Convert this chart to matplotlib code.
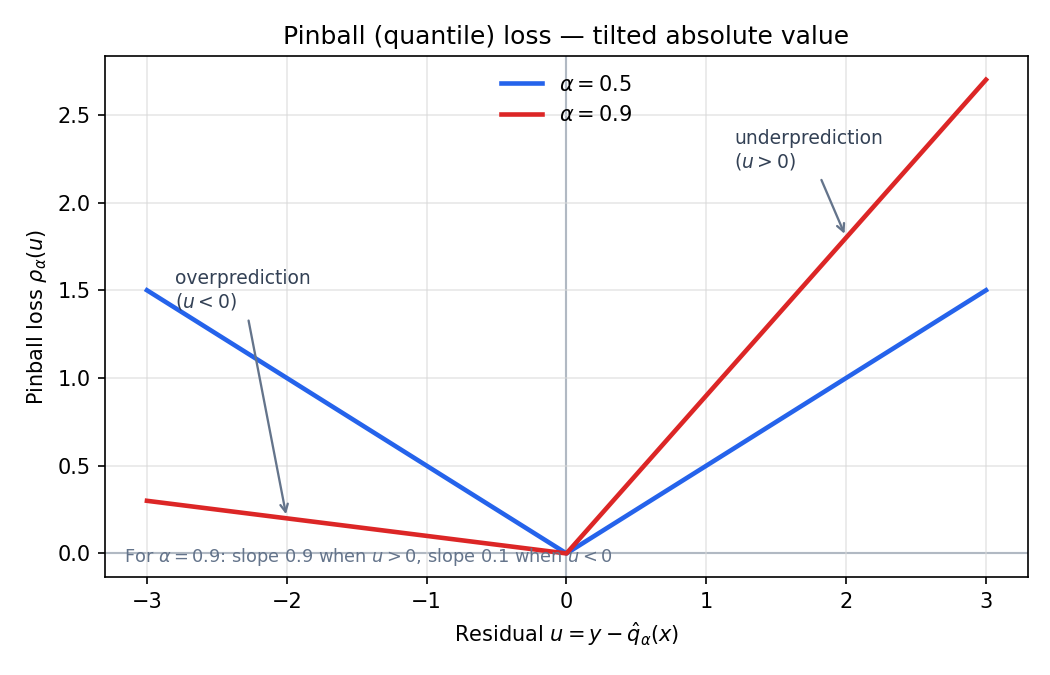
import matplotlib
matplotlib.use("Agg")
import matplotlib.pyplot as plt

# residuals and pinball loss values
u = [-3, 0, 3]
loss_05 = [1.5, 0.0, 1.5]
loss_09 = [0.3, 0.0, 2.7]

fig, ax = plt.subplots(figsize=(7, 4.5), dpi=150)

ax.axhline(0, color="#8a99ae", lw=1, zorder=1)
ax.axvline(0, color="#8a99ae", lw=1, zorder=1)

ax.plot(u, loss_05, color="#2563eb", lw=2.2, label=r"$\alpha = 0.5$", zorder=3)
ax.plot(u, loss_09, color="#dc2626", lw=2.2, label=r"$\alpha = 0.9$", zorder=3)

ax.grid(True, color="#d9d9d9", alpha=0.6, lw=0.8)

ax.annotate("underprediction\n($u > 0$)", xy=(2, 1.8), xytext=(1.2, 2.2),
            fontsize=9, color="#334155",
            arrowprops=dict(arrowstyle="->", color="#64748b", lw=1.1))
ax.annotate("overprediction\n($u < 0$)", xy=(-2, 0.2), xytext=(-2.8, 1.4),
            fontsize=9, color="#334155",
            arrowprops=dict(arrowstyle="->", color="#64748b", lw=1.1))

ax.text(-3.165, -0.022, r"For $\alpha = 0.9$: slope 0.9 when $u > 0$, slope 0.1 when $u < 0$",
        fontsize=8.5, color="#64748b", va="center")

ax.set_title("Pinball (quantile) loss — tilted absolute value")
ax.set_xlabel(r"Residual $u = y - \hat{q}_{\alpha}(x)$")
ax.set_ylabel(r"Pinball loss $\rho_{\alpha}(u)$")
ax.legend(loc="upper center", frameon=False)

fig.subplots_adjust(left=0.1, right=0.979, top=0.917, bottom=0.145)
fig.savefig("out.png")
